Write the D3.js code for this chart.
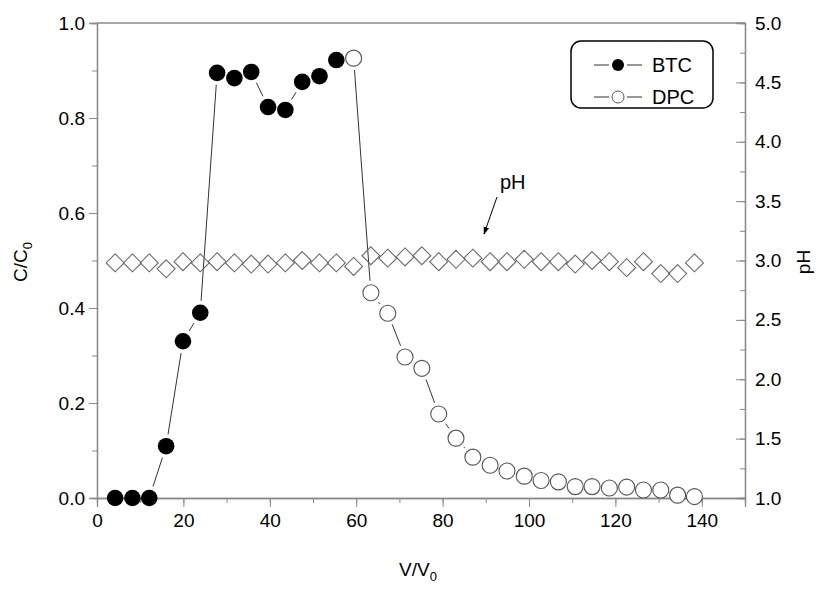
<!DOCTYPE html>
<html>
<head>
<meta charset="utf-8">
<script src="https://cdn.jsdelivr.net/npm/d3@7"></script>
<style>
  body { margin: 0; background: #fff; }
  text { font-family: Arial, "Liberation Sans", sans-serif; }
</style>
</head>
<body>
<svg id="chart" width="832" height="592"></svg>
<script>
// V/V0 values for every sample
var volumes = [4.2, 8.2, 12.1, 16.0, 19.9, 23.9, 27.8, 31.8, 35.7, 39.6, 43.6, 47.5, 51.5, 55.4,
               59.4, 63.4, 67.3, 71.3, 75.2, 79.1, 83.1, 87.0, 91.0, 94.9, 98.9, 102.8, 106.8,
               110.7, 114.6, 118.6, 122.6, 126.5, 130.5, 134.4, 138.3];
// breakthrough curve (first 14 samples)
var btcValues = [0, 0, 0, 0.109, 0.330, 0.390, 0.895, 0.884, 0.897, 0.823, 0.817, 0.876, 0.888, 0.922];
// desorption curve (remaining samples)
var dpcValues = [0.926, 0.432, 0.389, 0.297, 0.273, 0.177, 0.126, 0.086, 0.069, 0.057, 0.046,
                 0.037, 0.034, 0.024, 0.024, 0.021, 0.023, 0.017, 0.017, 0.006, 0.003];
var phValues = [2.98, 2.98, 2.98, 2.93, 2.99, 2.98, 2.99, 2.98, 2.97, 2.97, 2.98, 3.00, 2.98, 2.98,
                2.95, 3.04, 3.02, 3.03, 3.04, 2.99, 3.01, 3.02, 2.99, 2.99, 3.01, 2.99, 2.99,
                2.97, 3.00, 2.99, 2.94, 2.99, 2.89, 2.89, 2.98];
var xTicks = [0, 20, 40, 60, 80, 100, 120, 140];
var yTicks = [0, 0.2, 0.4, 0.6, 0.8, 1.0];
var phTicks = [1.0, 1.5, 2.0, 2.5, 3.0, 3.5, 4.0, 4.5, 5.0];
var legendNames = ["BTC", "DPC"];

var svg = d3.select("#chart");
var padL = 97, padR = 745, padT = 23, padB = 498;
var axisCol = "#8a8a8a";

var x = d3.scaleLinear().domain([0, 150]).range([padL, padR]);
var y = d3.scaleLinear().domain([0, 1]).range([padB, padT]);
var yPh = d3.scaleLinear().domain([1, 5]).range([padB, padT]);

var btc = btcValues.map(function(v, i) { return {x: volumes[i], y: v}; });
var dpc = dpcValues.map(function(v, i) { return {x: volumes[i + btcValues.length], y: v}; });
var ph = phValues.map(function(v, i) { return {x: volumes[i], y: v}; });

// axes
function styleAxis(g) {
  g.select(".domain").attr("stroke", axisCol).attr("stroke-width", 1.3);
  g.selectAll(".tick line").attr("stroke", axisCol);
  g.selectAll(".tick text").attr("fill", "#000").style("font-size", "19px");
}
var minorX = d3.range(0, 151, 10);
svg.append("g").attr("transform", "translate(0," + padB + ")")
  .call(d3.axisBottom(x).tickValues(minorX).tickSize(5).tickFormat(""))
  .call(styleAxis);
svg.append("g").attr("transform", "translate(0," + padB + ")")
  .call(d3.axisBottom(x).tickValues(xTicks).tickSize(9).tickPadding(7).tickFormat(d3.format("d")))
  .call(styleAxis);

svg.append("g").attr("transform", "translate(" + padL + ",0)")
  .call(d3.axisLeft(y).tickValues(d3.range(0, 1.01, 0.1)).tickSize(5).tickFormat(""))
  .call(styleAxis);
svg.append("g").attr("transform", "translate(" + padL + ",0)")
  .call(d3.axisLeft(y).tickValues(yTicks).tickSize(8).tickPadding(4).tickFormat(d3.format(".1f")))
  .call(styleAxis);

svg.append("g").attr("transform", "translate(" + padR + ",0)")
  .call(d3.axisRight(yPh).tickValues(d3.range(1, 5.01, 0.25)).tickSize(-5).tickFormat(""))
  .call(styleAxis);
svg.append("g").attr("transform", "translate(" + padR + ",0)")
  .call(d3.axisRight(yPh).tickValues(phTicks).tickSize(-9).tickPadding(10).tickFormat(d3.format(".1f")))
  .call(styleAxis);

svg.append("line").attr("x1", padL).attr("x2", padR).attr("y1", padT).attr("y2", padT)
  .attr("stroke", axisCol).attr("stroke-width", 1.3);

// connecting lines with a gap at each marker
function gappedLine(data, gap, color) {
  var g = svg.append("g");
  for (var i = 0; i < data.length - 1; i++) {
    var x1 = x(data[i].x), y1 = y(data[i].y), x2 = x(data[i + 1].x), y2 = y(data[i + 1].y);
    var dx = x2 - x1, dy = y2 - y1, d = Math.sqrt(dx * dx + dy * dy);
    if (d <= 2 * gap) continue;
    var ux = dx / d, uy = dy / d;
    g.append("line")
      .attr("x1", x1 + ux * gap).attr("y1", y1 + uy * gap)
      .attr("x2", x2 - ux * gap).attr("y2", y2 - uy * gap)
      .attr("stroke", color).attr("stroke-width", 1);
  }
}
gappedLine(btc, 12, "#333");
gappedLine(dpc, 12, "#333");

// pH diamonds
svg.append("g").selectAll("path").data(ph).enter().append("path")
  .attr("d", d3.symbol().type(d3.symbolDiamond2).size(205))
  .attr("transform", function(d) { return "translate(" + x(d.x) + "," + yPh(d.y) + ")"; })
  .attr("fill", "none").attr("stroke", "#6a6a6a").attr("stroke-width", 1.1);

svg.append("g").selectAll("circle").data(btc).enter().append("circle")
  .attr("cx", function(d) { return x(d.x); }).attr("cy", function(d) { return y(d.y); })
  .attr("r", 8.3).attr("fill", "#000");
svg.append("g").selectAll("circle").data(dpc).enter().append("circle")
  .attr("cx", function(d) { return x(d.x); }).attr("cy", function(d) { return y(d.y); })
  .attr("r", 8).attr("fill", "#fff").attr("stroke", "#555").attr("stroke-width", 1.1);

// legend
var lg = svg.append("g");
lg.append("rect").attr("x", 571).attr("y", 41).attr("width", 142).attr("height", 67)
  .attr("rx", 10).attr("fill", "#fff").attr("stroke", "#000").attr("stroke-width", 1.5);
legendNames.forEach(function(name, i) {
  var ly = 65 + i * 32;
  lg.append("line").attr("x1", 594).attr("x2", 609).attr("y1", ly).attr("y2", ly).attr("stroke", "#333");
  lg.append("line").attr("x1", 627).attr("x2", 642).attr("y1", ly).attr("y2", ly).attr("stroke", "#333");
  lg.append("circle").attr("cx", 618).attr("cy", ly).attr("r", 6)
    .attr("fill", i === 0 ? "#000" : "#fff").attr("stroke", i === 0 ? "none" : "#555");
  lg.append("text").attr("x", 652).attr("y", ly + 7).style("font-size", "20px").text(name);
});

// pH annotation
svg.append("defs").append("marker").attr("id", "arrow").attr("viewBox", "0 0 10 10")
  .attr("refX", 9).attr("refY", 5).attr("markerWidth", 8).attr("markerHeight", 8)
  .attr("orient", "auto").append("path").attr("d", "M0,1.5 L10,5 L0,8.5 Z").attr("fill", "#000");
svg.append("text").attr("x", 500).attr("y", 189).style("font-size", "20px").text("pH");
svg.append("line").attr("x1", 497).attr("y1", 197).attr("x2", 484).attr("y2", 234)
  .attr("stroke", "#000").attr("stroke-width", 1).attr("marker-end", "url(#arrow)");

// axis titles
var yt = svg.append("text").attr("transform", "translate(27,262) rotate(-90)")
  .attr("text-anchor", "middle").style("font-size", "19px");
yt.append("tspan").text("C/C");
yt.append("tspan").attr("dy", 5).style("font-size", "13px").text("0");

var xt = svg.append("text").attr("x", 418).attr("y", 576).attr("text-anchor", "middle")
  .style("font-size", "19px");
xt.append("tspan").text("V/V");
xt.append("tspan").attr("dy", 5).style("font-size", "13px").text("0");

svg.append("text").attr("transform", "translate(810,262) rotate(-90)")
  .attr("text-anchor", "middle").style("font-size", "19px").text("pH");
</script>
</body>
</html>
